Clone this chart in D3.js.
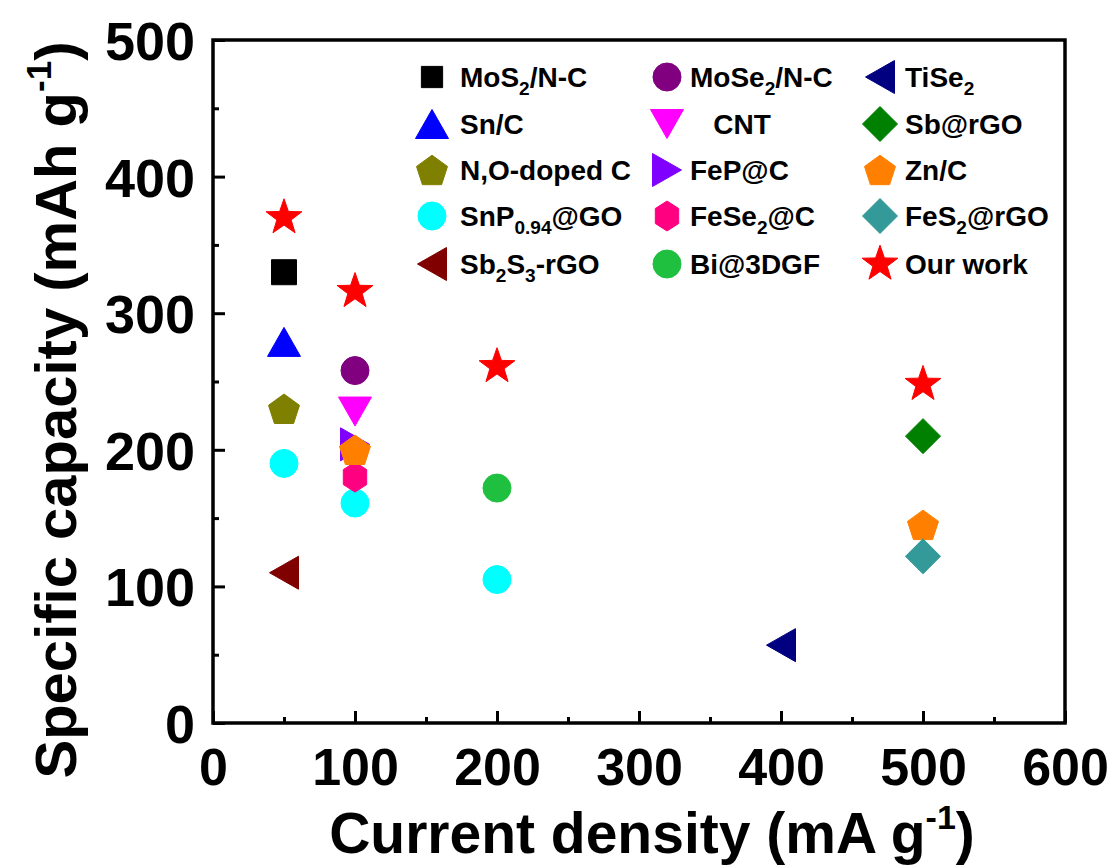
<!DOCTYPE html>
<html>
<head>
<meta charset="utf-8">
<script src="https://cdn.jsdelivr.net/npm/d3@7"></script>
<style>
  html, body { margin: 0; padding: 0; background: #fff; }
  svg text { font-family: "Liberation Sans", Arial, sans-serif; font-weight: bold; fill: #000; }
</style>
</head>
<body>
<svg id="chart" width="1120" height="868"></svg>
<script>
// Rate capability of sodium-ion anodes: specific capacity vs current density
const seriesNames = [
  "MoS_{2}/N-C", "Sn/C", "N,O-doped C", "SnP_{0.94}@GO", "Sb_{2}S_{3}-rGO",
  "MoSe_{2}/N-C", "   CNT", "FeP@C", "FeSe_{2}@C", "Bi@3DGF",
  "TiSe_{2}", "Sb@rGO", "Zn/C", "FeS_{2}@rGO", "Our work"
];
// current density (mA g-1) for each series
const seriesX = [
  [50], [50], [50], [50, 100, 200], [50],
  [100], [100], [100], [100], [200],
  [400], [500], [100, 500], [500], [50, 100, 200, 500]
];
// specific capacity (mAh g-1) for each series
const seriesY = [
  [330], [279], [230], [190, 161, 105], [110],
  [258], [228], [204], [180], [172],
  [57], [210], [200, 145], [122], [370, 316, 261, 248]
];
const xTicks = [0, 100, 200, 300, 400, 500, 600];
const yTicks = [0, 100, 200, 300, 400, 500];

// marker shape and colour per series
const markerShapes = [
  "square", "triUp", "pentagon", "circle", "triLeft",
  "circle", "triDown", "triRight", "hexagon", "circle",
  "triLeft", "diamond", "pentagon", "diamond", "star"
];
const markerColors = [
  "#000000", "#0000ff", "#808000", "#00ffff", "#800000",
  "#800080", "#ff00ff", "#8000ff", "#ff0080", "#1fc040",
  "#000080", "#008000", "#ff8000", "#339999", "#ff0000"
];

function shapePath(kind, s) {
  const p = d3.path();
  const poly = pts => { pts.forEach((q, i) => i ? p.lineTo(q[0], q[1]) : p.moveTo(q[0], q[1])); p.closePath(); };
  switch (kind) {
    case "square": { const h = 12.5 * s; poly([[-h,-h],[h,-h],[h,h],[-h,h]]); break; }
    case "circle": { p.arc(0, 0, 14 * s, 0, 2 * Math.PI); break; }
    case "triUp": { const w = 16.5 * s, h = 14.5 * s; poly([[0,-h],[w,h],[-w,h]]); break; }
    case "triDown": { const w = 16.5 * s, h = 14.5 * s; poly([[-w,-h],[w,-h],[0,h]]); break; }
    case "triLeft": { const w = 14.5 * s, h = 16.5 * s; poly([[-w,0],[w,-h],[w,h]]); break; }
    case "triRight": { const w = 14.5 * s, h = 16.5 * s; poly([[-w,-h],[w,0],[-w,h]]); break; }
    case "diamond": { const r = 17.5 * s; poly([[0,-r],[r,0],[0,r],[-r,0]]); break; }
    case "pentagon": {
      const r = 16.3 * s, pts = [];
      for (let i = 0; i < 5; i++) { const a = -Math.PI / 2 + i * 2 * Math.PI / 5; pts.push([r * Math.cos(a), r * Math.sin(a) + 1.5 * s]); }
      poly(pts); break;
    }
    case "hexagon": {
      const r = 15 * s, pts = [];
      for (let i = 0; i < 6; i++) { const a = -Math.PI / 2 + i * Math.PI / 3; pts.push([r * 0.9 * Math.cos(a), r * Math.sin(a)]); }
      poly(pts); break;
    }
    case "star": {
      const R = 18.8 * s, r = R * 0.4, pts = [];
      for (let i = 0; i < 10; i++) { const a = -Math.PI / 2 + i * Math.PI / 5, rr = i % 2 ? r : R; pts.push([rr * Math.cos(a), rr * Math.sin(a)]); }
      poly(pts); break;
    }
  }
  return p.toString();
}

// write "A_{b}" markup as tspans with subscripts
function richText(sel, label, size) {
  const parts = label.split(/(_\{[^}]*\})/).filter(d => d.length);
  let shift = 0;
  parts.forEach(part => {
    if (part.startsWith("_{")) {
      sel.append("tspan").attr("dy", size * 0.28 - shift).attr("font-size", size * 0.68).text(part.slice(2, -1));
      shift = size * 0.28;
    } else {
      sel.append("tspan").attr("dy", -shift).attr("font-size", size).text(part);
      shift = 0;
    }
  });
}

const svg = d3.select("#chart");
const margin = { left: 213, right: 1065, top: 40, bottom: 723 };
const x = d3.scaleLinear().domain([0, 600]).range([margin.left, margin.right]);
const y = d3.scaleLinear().domain([0, 500]).range([margin.bottom, margin.top]);

// axes with inward ticks
const xAxis = d3.axisBottom(x).tickValues(xTicks).tickSize(-12).tickPadding(25).tickFormat(d3.format("d"));
const yAxis = d3.axisLeft(y).tickValues(yTicks).tickSize(-12).tickPadding(18).tickFormat(d3.format("d"));
const minorX = d3.axisBottom(x).tickValues(d3.range(50, 600, 100)).tickSize(-6);
const minorY = d3.axisLeft(y).tickValues(d3.range(50, 500, 100)).tickSize(-6);

function styleAxis(g) {
  g.select(".domain").remove();
  g.selectAll(".tick line").attr("stroke", "#000").attr("stroke-width", 3);
  g.selectAll(".tick text").attr("font-size", 52).attr("fill", "#000")
    .attr("font-family", "'Liberation Sans', Arial, sans-serif").attr("font-weight", "bold");
}
function minorOnly(g) {
  g.select(".domain").remove();
  g.selectAll(".tick text").remove();
  g.selectAll(".tick line").attr("stroke", "#000").attr("stroke-width", 3);
}
svg.append("g").attr("transform", `translate(0,${margin.bottom})`).call(xAxis).call(styleAxis)
  .selectAll(".tick text").attr("dy", "0.71em");
svg.append("g").attr("transform", `translate(0,${margin.bottom})`).call(minorX).call(minorOnly);
svg.append("g").attr("transform", `translate(${margin.left},0)`).call(yAxis).call(styleAxis)
  .selectAll(".tick text").attr("dy", "0.36em").attr("font-size", 54);
svg.append("g").attr("transform", `translate(${margin.left},0)`).call(minorY).call(minorOnly);

// frame
svg.append("rect")
  .attr("x", margin.left).attr("y", margin.top)
  .attr("width", margin.right - margin.left).attr("height", margin.bottom - margin.top)
  .attr("fill", "none").attr("stroke", "#000").attr("stroke-width", 3.5);

// axis titles
const xt = svg.append("text").attr("x", 652).attr("y", 853).attr("text-anchor", "middle");
xt.append("tspan").attr("font-size", 57).text("Current density (mA g");
xt.append("tspan").attr("font-size", 34).attr("dy", -24).text("-1");
xt.append("tspan").attr("font-size", 57).attr("dy", 24).text(")");

const yt = svg.append("text").attr("transform", "translate(76,410) rotate(-90)").attr("text-anchor", "middle");
yt.append("tspan").attr("font-size", 58).text("Specific capacity (mAh g");
yt.append("tspan").attr("font-size", 35).attr("dy", -25).text("-1");
yt.append("tspan").attr("font-size", 58).attr("dy", 25).text(")");

// data markers
const plot = svg.append("g");
seriesNames.forEach((name, i) => {
  const pts = seriesX[i].map((xv, j) => [xv, seriesY[i][j]]);
  plot.selectAll(null).data(pts).enter().append("path")
    .attr("transform", d => `translate(${x(d[0])},${y(d[1])})`)
    .attr("d", shapePath(markerShapes[i], 1))
    .attr("fill", markerColors[i]).attr("stroke", markerColors[i]).attr("stroke-width", 1);
});

// legend: three columns of five entries
const legendColX = [432, 667, 880];
const legendTextX = [460, 690, 905];
const legendRowY = [77, 124, 170, 216, 264];
const legend = svg.append("g");
seriesNames.forEach((name, i) => {
  const c = Math.floor(i / 5), r = i % 5;
  legend.append("path")
    .attr("transform", `translate(${legendColX[c]},${legendRowY[r]})`)
    .attr("d", shapePath(markerShapes[i], markerShapes[i] === "square" ? 0.85 : 1))
    .attr("fill", markerColors[i]).attr("stroke", markerColors[i]).attr("stroke-width", 1);
  const t = legend.append("text").attr("x", legendTextX[c]).attr("y", legendRowY[r] + 10)
    .style("white-space", "pre");
  richText(t, name, 28);
});
</script>
</body>
</html>
